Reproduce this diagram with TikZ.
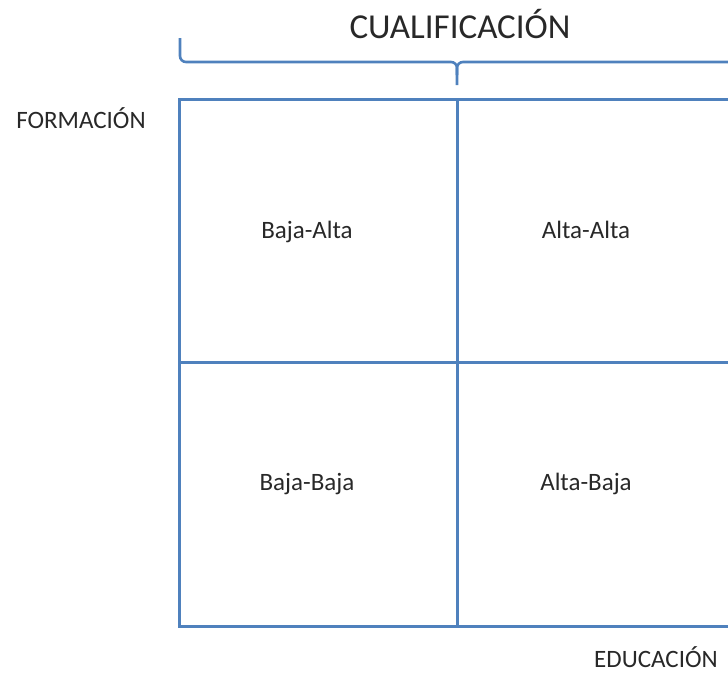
\documentclass[tikz,border=0pt]{standalone}
\usepackage{fontspec}
\setmainfont{Carlito}
\usepackage{tikz}
\usetikzlibrary{positioning}
\definecolor{gridblue}{RGB}{79,129,189}
\definecolor{txtgray}{RGB}{40,40,40}
\tikzset{
  gridline/.style={draw=gridblue, line width=3pt},
  bracket/.style={draw=gridblue, line width=2.6pt, rounded corners=6pt},
  celltext/.style={font=\fontsize{25}{30}\selectfont, text=txtgray, anchor=base, inner sep=0pt},
  axistext/.style={font=\fontsize{25}{30}\selectfont, text=txtgray, anchor=base, inner sep=0pt},
  titletext/.style={font=\fontsize{35}{42}\selectfont, text=txtgray, anchor=base, inner sep=0pt}
}
\begin{document}
\begin{tikzpicture}[x=1pt, y=-1pt]
  \useasboundingbox (0,0) rectangle (728,675);
  % grid 2x2 (right edge runs off the page)
  \draw[gridline] (179,99) rectangle (735,626);
  \draw[gridline] (457,99) -- (457,626);
  \draw[gridline] (179,362) -- (735,362);

  % brace over the grid
  \coordinate (bl) at (180,38);
  \coordinate (bt) at (457,85);
  \draw[bracket] (bl) -- (180,62) -- (457,62) -- (bt);
  \draw[bracket] (457,75) -- (457,62) -- (745,62);
  \node[titletext] (cualif) at (460,38) {CUALIFICACIÓN};

  % axis labels
  \node[axistext] (form) at (81,128) {FORMACIÓN};
  \node[axistext] (educ) at (656,667) {EDUCACIÓN};

  % cell labels
  \node[celltext] (bajaalta) at (307,238) {Baja-Alta};
  \node[celltext] (altaalta) at (586,238) {Alta-Alta};
  \node[celltext] (bajabaja) at (307,490) {Baja-Baja};
  \node[celltext] (altabaja) at (586,490) {Alta-Baja};
\end{tikzpicture}
\end{document}
